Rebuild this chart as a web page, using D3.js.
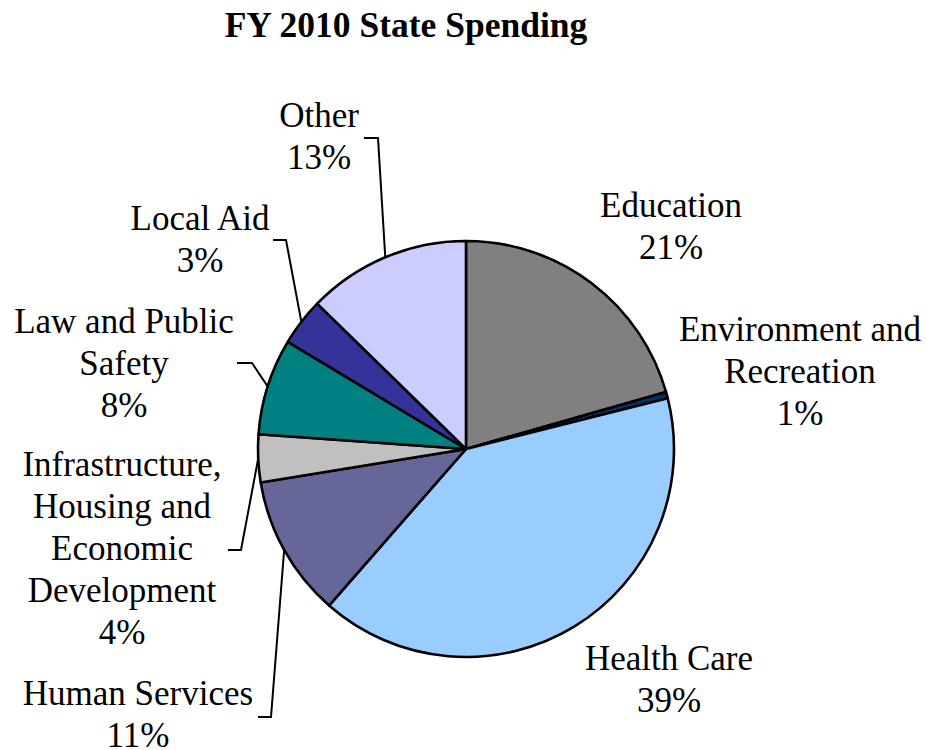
<!DOCTYPE html>
<html>
<head>
<meta charset="utf-8">
<script src="https://cdn.jsdelivr.net/npm/d3@7"></script>
<style>
  body { margin: 0; background: #fff; }
  text { font-family: "Liberation Serif", "Times New Roman", serif; fill: #000; }
</style>
</head>
<body>
<script>
// slice shares (percent of total)
const categories = ["Education", "Environment and Recreation", "Health Care", "Human Services",
  "Infrastructure, Housing and Economic Development", "Law and Public Safety", "Local Aid", "Other"];
const values = [20.6, 0.5, 40.4, 11.0, 3.7, 7.5, 3.7, 12.7];
const pctLabels = ["21%", "1%", "39%", "11%", "4%", "8%", "3%", "13%"];
const colors = ["#808080", "#003366", "#99ccff", "#666699", "#c0c0c0", "#008080", "#333399", "#ccccff"];

// how each label's name is broken into lines
const labelLines = [
  ["Education"],
  ["Environment and", "Recreation"],
  ["Health Care"],
  ["Human Services"],
  ["Infrastructure,", "Housing and", "Economic", "Development"],
  ["Law and Public", "Safety"],
  ["Local Aid"],
  ["Other"]
];

// label placement (text centre x, first baseline y, optional leader start)
const labelPos = [
  { x: 671, y: 217 },
  { x: 800, y: 341 },
  { x: 669, y: 670 },
  { x: 138, y: 705, lead: [258, 271, 717] },
  { x: 122, y: 476, lead: [228, 241, 550] },
  { x: 124, y: 333, lead: [237, 252, 363] },
  { x: 200, y: 230, lead: [273, 286, 240] },
  { x: 319, y: 127, lead: [364, 378, 138] }
];

const width = 927, height = 750;
const xc = 466, yc = 449, radius = 208;
const lineH = 42;

const data = categories.map((c, i) => ({ name: c, value: values[i], pct: pctLabels[i],
  color: colors[i], lines: labelLines[i], pos: labelPos[i] }));

const svg = d3.select("body").append("svg")
  .attr("width", width)
  .attr("height", height);

svg.append("text")
  .attr("x", 406)
  .attr("y", 37)
  .attr("text-anchor", "middle")
  .style("font-size", "35.5px")
  .style("font-weight", "bold")
  .text("FY 2010 State Spending");

const pie = d3.pie().sort(null).value(d => d.value);
const arcs = pie(data);

const arc = d3.arc().innerRadius(0).outerRadius(radius);
const edgeArc = d3.arc().innerRadius(radius).outerRadius(radius);

const g = svg.append("g").attr("transform", "translate(" + xc + "," + yc + ")");

g.selectAll("path.slice")
  .data(arcs)
  .enter()
  .append("path")
  .attr("class", "slice")
  .attr("d", arc)
  .attr("fill", d => d.data.color)
  .attr("stroke", "#000")
  .attr("stroke-width", 2.6)
  .attr("stroke-linejoin", "round");

/* ------- LEADER LINES ------- */
svg.selectAll("polyline")
  .data(arcs.filter(d => d.data.pos.lead))
  .enter()
  .append("polyline")
  .attr("points", d => {
    const l = d.data.pos.lead;
    const e = edgeArc.centroid(d);
    return [[l[0], l[2]], [l[1], l[2]], [e[0] + xc, e[1] + yc]];
  })
  .attr("fill", "none")
  .attr("stroke", "#000")
  .attr("stroke-width", 2);

/* ------- TEXT LABELS ------- */
const lbl = svg.selectAll("text.label")
  .data(arcs)
  .enter()
  .append("text")
  .attr("class", "label")
  .attr("text-anchor", "middle")
  .style("font-size", "35px");

lbl.selectAll("tspan")
  .data(d => d.data.lines.concat([d.data.pct]).map((t, k) => ({ t: t, k: k, p: d.data.pos })))
  .enter()
  .append("tspan")
  .attr("x", d => d.p.x)
  .attr("y", d => d.p.y + d.k * lineH)
  .text(d => d.t);
</script>
</body>
</html>
